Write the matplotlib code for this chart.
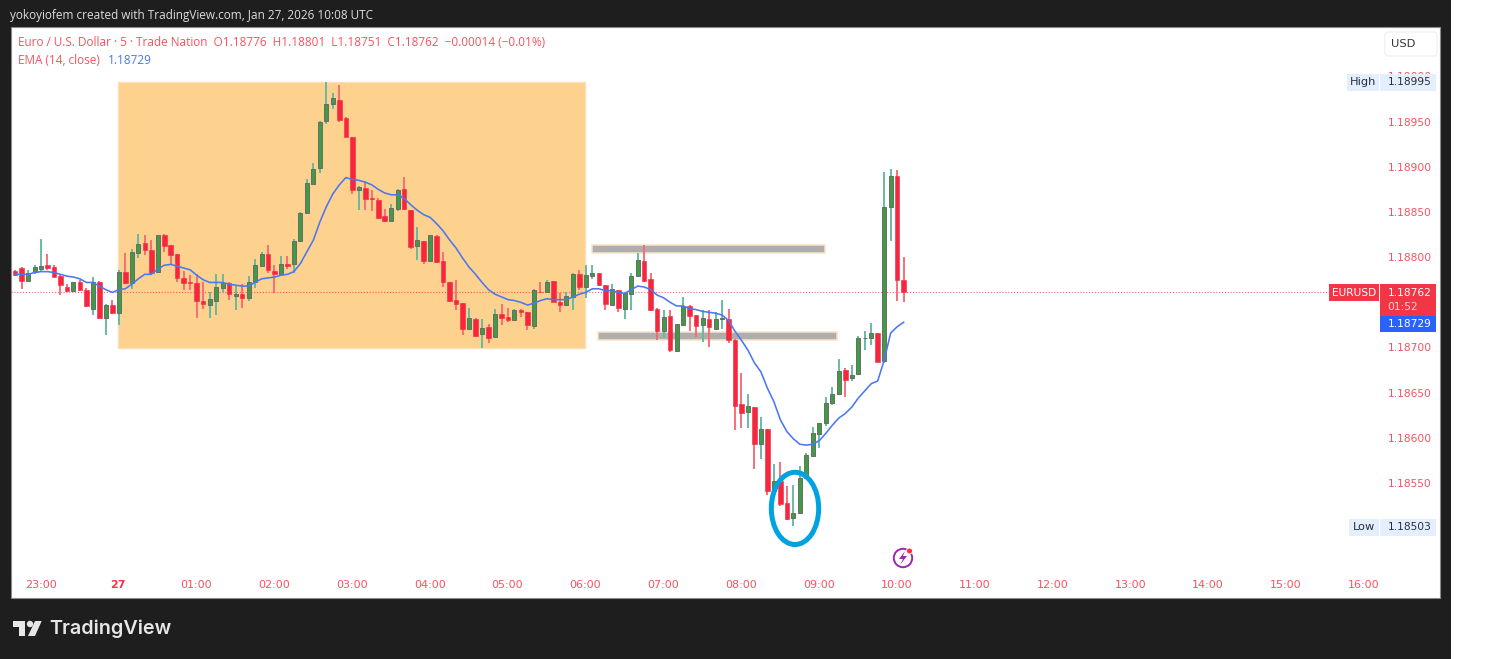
import numpy as np
import matplotlib
matplotlib.use("Agg")
import matplotlib.pyplot as plt
from matplotlib.patches import Rectangle, Ellipse, Circle, Polygon, FancyBboxPatch

# prices are stored as points (0.00001) above 1.18000
PRICE_BASE = 1.18
first_bar = -4
opens = [786,789,775,785,
 788,792,790,780,768,764,773,765,744,774,
 734,748,739,785,772,806,817,809,785,825,
 814,804,778,773,772,753,748,753,767,772,
 758,760,756,774,791,805,786,782,793,793,
 819,850,882,900,952,970,975,955,934,875,
 878,866,864,846,841,854,876,853,813,819,
 797,824,797,773,754,750,722,733,716,724,
 713,738,735,731,742,740,725,763,762,775,
 751,748,757,782,768,780,783,770,748,765,
 744,760,780,797,777,744,719,736,697,726,
 747,737,726,733,722,733,733,709,638,630,
 635,594,611,542,553,529,512,518,557,581,
 605,618,640,650,676,667,672,711,712,717,
 686,857,891,776]
highs = [787,790,787,792,
 821,805,792,781,771,774,776,767,779,775,
 749,754,787,806,810,827,826,820,826,827,
 815,805,786,781,782,773,763,782,782,773,
 770,771,780,799,807,815,792,802,802,821,
 851,888,905,952,995,983,991,956,934,880,
 885,875,867,854,860,876,890,853,834,819,
 825,825,807,773,776,750,745,734,733,727,
 744,749,745,744,744,740,766,774,776,775,
 761,763,783,787,792,792,783,770,771,765,
 763,784,806,815,783,745,743,743,727,757,
 748,737,743,743,740,754,744,710,673,650,
 635,624,611,572,574,548,549,570,584,613,
 618,646,657,688,678,682,714,719,728,717,
 895,899,897,801]
lows = [780,766,775,782,
 786,787,779,759,762,764,764,746,737,733,
 715,738,726,771,766,800,803,782,784,807,
 792,773,765,765,734,744,734,737,762,754,
 743,745,752,767,790,784,761,782,788,783,
 818,850,881,894,948,965,951,934,871,853,
 853,852,843,840,840,852,853,810,798,793,
 797,795,768,751,743,715,721,713,700,706,
 713,726,729,731,735,720,721,761,761,751,
 740,748,743,765,756,777,769,743,747,740,
 733,743,779,774,741,709,712,696,696,725,
 719,713,707,702,721,722,706,610,612,612,
 567,578,538,541,526,510,503,518,556,580,
 590,614,637,649,646,664,672,698,704,685,
 684,819,753,751]
closes = [781,775,783,790,
 791,789,779,770,764,774,765,747,773,734,
 748,739,785,772,807,816,809,783,825,813,
 803,778,772,772,752,749,755,768,772,760,
 760,756,774,792,804,787,782,793,791,819,
 850,883,899,951,971,977,953,934,875,879,
 865,865,844,841,855,875,854,812,820,797,
 825,796,773,752,749,722,734,714,723,712,
 738,734,732,742,740,726,765,762,774,751,
 748,758,782,768,781,783,770,749,766,745,
 761,780,798,775,742,719,735,698,727,747,
 736,725,734,724,733,734,709,636,629,636,
 594,611,542,553,528,511,518,557,582,606,
 617,640,650,675,665,671,712,712,717,685,
 856,891,776,762]
ema = [782,782,782,784,
 785,785,784,782,780,779,777,773,773,769,
 765,762,765,766,771,777,782,782,788,792,
 793,791,789,787,781,776,773,773,773,771,
 770,769,769,773,777,778,779,781,782,785,
 794,807,820,840,857,871,881,889,887,886,
 884,881,876,872,870,870,866,859,853,848,
 845,838,830,820,811,800,790,782,773,765,
 760,757,754,753,751,748,750,753,755,754,
 754,754,757,760,762,766,766,764,764,762,
 761,765,769,768,765,759,756,751,747,747,
 744,743,741,740,739,737,731,719,709,698,
 684,674,656,641,621,608,600,594,593,594,
 598,606,615,623,628,635,645,653,661,664,
 687,717,724,729]

time_labels = ["23:00","27","01:00","02:00","03:00","04:00","05:00","06:00","07:00",
               "08:00","09:00","10:00","11:00","12:00","13:00","14:00","15:00","16:00"]
bars_per_label = 12
price_ticks = [1.18950,1.18900,1.18850,1.18800,1.18700,1.18650,1.18600,1.18550]
last_price = 1.18762
ema_last = 1.18729
day_high = 1.18995
day_low = 1.18503

# annotations drawn by the author (bar index / price)
zone = (11.9, 83.8, 1.18701, 1.18995)
band_upper = (85, 120.9, 1.18806, 1.18815)
band_lower = (85.9, 122.8, 1.18709, 1.18718)
circle = (116.25, 1.18523, 7.3, 0.00080)

to_price = lambda a: PRICE_BASE + np.array(a, dtype=float) / 1e5
O, H, L, C, E = map(to_price, (opens, highs, lows, closes, ema))
x = np.arange(first_bar, first_bar + len(opens))

DARK = "#1e1e1e"
RED = "#f23645"
LRED = "#f7525f"
W, HT = 1495, 659
fig = plt.figure(figsize=(W / 100, HT / 100), dpi=100, facecolor="white")

# dark frame + white panel in pixels
chrome = fig.add_axes([0, 0, 1, 1], zorder=0)
chrome.set_xlim(0, W); chrome.set_ylim(HT, 0); chrome.axis("off")
chrome.add_patch(Rectangle((0, 0), 1451, HT, fc=DARK, ec="none"))
chrome.add_patch(Rectangle((10.5, 26.5), 1429.5, 571.5, fc="white", ec="#8a8a8a", lw=0.8))

# chart axes over the white panel
ax = fig.add_axes([11 / W, 1 - 598 / HT, (1440 - 11) / W, (598 - 27) / HT], zorder=1)
PX_I = 6.486
PX_P = 1.1065e-5
ax.set_xlim((11 - 41) / PX_I, (1440 - 41) / PX_I)
ax.set_ylim(1.1895 - (598 - 122.5) * PX_P, 1.1895 + (122.5 - 27) * PX_P)
ax.axis("off"); ax.patch.set_alpha(0)

ax.add_patch(Rectangle((zone[0], zone[2]), zone[1] - zone[0], zone[3] - zone[2],
                       fc="#fdd18e", ec="#fde0b5", lw=1.0, zorder=1))
for b in (band_upper, band_lower):
    ax.add_patch(Rectangle((b[0], b[2]), b[1] - b[0], b[3] - b[2],
                           fc="#aeaeae", ec="#fde2c6", lw=1.1, zorder=1))
ax.plot([ax.get_xlim()[0], (1329 - 41) / PX_I], [last_price] * 2, color=RED,
        lw=0.8, ls=(0, (1, 1.6)), alpha=0.75, zorder=2)

up = C >= O
ax.vlines(x[up], L[up], H[up], color="#63b8a2", lw=1.35, zorder=3)
ax.vlines(x[~up], L[~up], H[~up], color="#f66a76", lw=1.35, zorder=3)
ax.bar(x[up], (C - O)[up], bottom=O[up], width=0.62, color="#3f9c45", edgecolor="#6b6b6b", lw=0.7, zorder=4)
ax.bar(x[~up], (O - C)[~up], bottom=C[~up], width=0.7, color="#f5273f", edgecolor="#f5273f", lw=0.4, zorder=4)
ax.plot(x, E, color="#4a78f0", lw=1.15, zorder=5)
ax.add_patch(Ellipse(circle[:2], circle[2], circle[3], fc="none", ec="#00a3e0", lw=3.6, zorder=6))

# overlay for text and price-scale tags, pixels
top = fig.add_axes([0, 0, 1, 1], zorder=2)
top.set_xlim(0, W); top.set_ylim(HT, 0); top.axis("off"); top.patch.set_alpha(0)
UI = "Open Sans"
NUM = "DejaVu Sans"

top.text(10, 15.5, "yokoyiofem created with TradingView.com, Jan 27, 2026 10:08 UTC",
         color="#dddddd", fontsize=8.47, family=UI, va="center")
top.text(18, 43, "Euro / U.S. Dollar · 5 · Trade Nation  O1.18776  H1.18801  L1.18751  C1.18762  −0.00014 (−0.01%)",
         color=LRED, fontsize=8.47, family=UI, va="center")
top.text(18, 60, "EMA (14, close)", color=LRED, fontsize=8.47, family=UI, va="center")
top.text(108, 60, f"{ema_last:.5f}", color="#4a78f0", fontsize=8.47, family=UI, va="center")

top.add_patch(FancyBboxPatch((1385, 32), 52, 24, boxstyle="round,pad=0,rounding_size=3",
                             fc="white", ec="#eeeeee", lw=0.8))
top.text(1403, 44, "USD", color="#333333", fontsize=8.2, family=NUM, va="center", ha="center")

px_y = lambda p: 122.5 + (1.1895 - p) / PX_P
for p in price_ticks:
    top.text(1409.5, px_y(p), f"{p:.5f}", color=LRED, fontsize=7.7, family=NUM, va="center", ha="center")
top.text(1409.5, 77, "1.19000", color=LRED, fontsize=7.7, family=NUM, va="center", ha="center")

for (bx, bw, y0, lab, val) in ((1347, 32, 74, "High", day_high), (1349, 30, 519, "Low", day_low)):
    top.add_patch(Rectangle((bx, y0), bw, 16.5, fc="#e3effd", ec="none", zorder=3))
    top.add_patch(Rectangle((1380, y0), 56, 16.5, fc="#e3effd", ec="none", zorder=3))
    top.text(bx + bw / 2, y0 + 8, lab, color="#2a2e39", fontsize=8.2, family=NUM, va="center", ha="center", zorder=4)
    top.text(1409.5, y0 + 8, f"{val:.5f}", color="#2a2e39", fontsize=7.7, family=NUM, va="center", ha="center", zorder=4)

top.add_patch(Rectangle((1329, 284), 50, 17, fc=RED, ec="none"))
top.text(1354, 292.5, "EURUSD", color="white", fontsize=7.7, family=NUM, va="center", ha="center")
top.add_patch(Rectangle((1380, 284), 56, 32, fc=RED, ec="none"))
top.text(1409.5, 292.5, f"{last_price:.5f}", color="white", fontsize=7.7, family=NUM, va="center", ha="center")
top.text(1403, 307, "01:52", color="#fbd0d4", fontsize=7.7, family=NUM, va="center", ha="center")
top.add_patch(Rectangle((1380, 316), 56, 16, fc="#2962ff", ec="none"))
top.text(1409.5, 324, f"{ema_last:.5f}", color="white", fontsize=7.7, family=NUM, va="center", ha="center")

for k, lab in enumerate(time_labels):
    tx = 40.5 + k * bars_per_label * PX_I
    top.text(tx, 585, lab, color=RED if lab == "27" else LRED, fontsize=8, family=NUM,
             fontweight="bold" if lab == "27" else "normal", va="center", ha="center")

# flash icon
top.add_patch(Circle((903, 558), 9.2, fc="white", ec="#9c27b0", lw=1.4))
top.add_patch(Polygon([(905, 551), (899, 559), (903, 559), (900, 565), (907, 556), (903, 556)],
                      fc="#9c27b0", ec="none"))
top.add_patch(Circle((909.5, 551), 3, fc=RED, ec="white", lw=0.6))

# logo
LOGO = "#e6e6e6"
top.add_patch(Polygon([(12.7, 621), (25, 621), (25, 636), (18.5, 636), (18.5, 627), (12.7, 627)], fc=LOGO, ec="none"))
top.add_patch(Circle((30, 624), 3.2, fc=LOGO, ec="none"))
top.add_patch(Polygon([(35, 621), (41.7, 621), (35, 636), (28, 636)], fc=LOGO, ec="none"))
top.text(49, 629, "TradingView", color=LOGO, fontsize=14.25, family="Inter", fontweight="semibold", va="center")

fig.savefig("out.png", dpi=100, facecolor="white")
